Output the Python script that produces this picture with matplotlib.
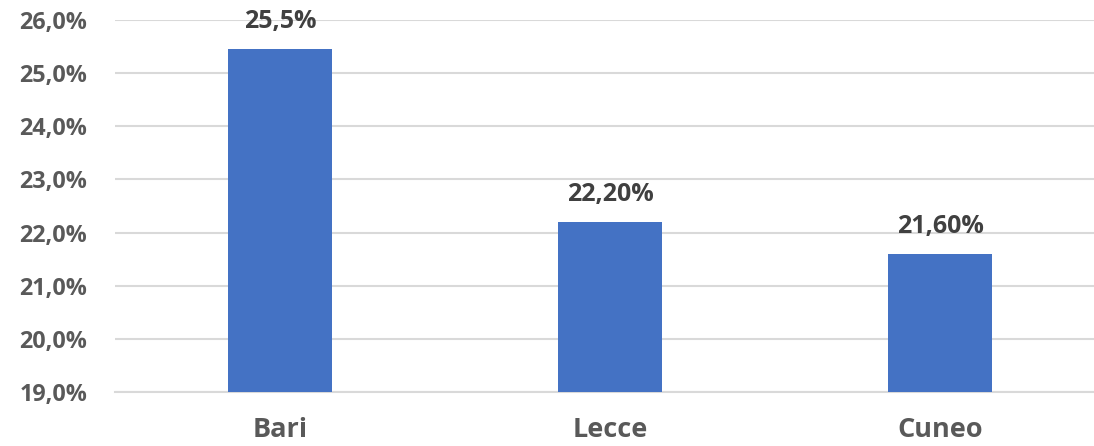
import matplotlib.pyplot as plt

cities = ["Bari", "Lecce", "Cuneo"]
values = [25.45, 22.2, 21.6]
value_labels = ["25,5%", "22,20%", "21,60%"]
yticks = [19, 20, 21, 22, 23, 24, 25, 26]

plt.rcParams['font.family'] = ['Open Sans', 'DejaVu Sans']
plt.rcParams['font.weight'] = 'bold'

fig = plt.figure(figsize=(10.94, 4.46), dpi=100)
ax = fig.add_axes([115 / 1094, 1 - 392 / 446, 990 / 1094, 372 / 446])

x = range(len(cities))
ax.bar(x, values, width=0.315, color="#4472C4", zorder=3)

for i, (v, lab) in enumerate(zip(values, value_labels)):
    ax.annotate(lab, (i, v), xytext=(0, 20), textcoords="offset points",
                ha="center", va="center", fontsize=18, fontweight="bold",
                color="#404040")

ax.set_xlim(-0.5, 2.5)
ax.set_ylim(19, 26)
ax.set_yticks(yticks)
ax.set_yticklabels([f"{t:.1f}%".replace(".", ",") for t in yticks])
ax.set_xticks(list(x))
ax.set_xticklabels(cities)
ax.tick_params(axis="y", length=0, pad=20, labelsize=16.8, labelcolor="#595959")
ax.tick_params(axis="x", length=0, pad=18, labelsize=19.5, labelcolor="#595959")
for t in ax.get_xticklabels() + ax.get_yticklabels():
    t.set_fontweight("bold")

ax.grid(axis="y", color="#d9d9d9", linewidth=1.5, zorder=0)
for s in ["top", "right", "left"]:
    ax.spines[s].set_visible(False)
ax.spines["bottom"].set_color("#d9d9d9")
ax.spines["bottom"].set_linewidth(1.5)

fig.savefig("out.png", dpi=100)
